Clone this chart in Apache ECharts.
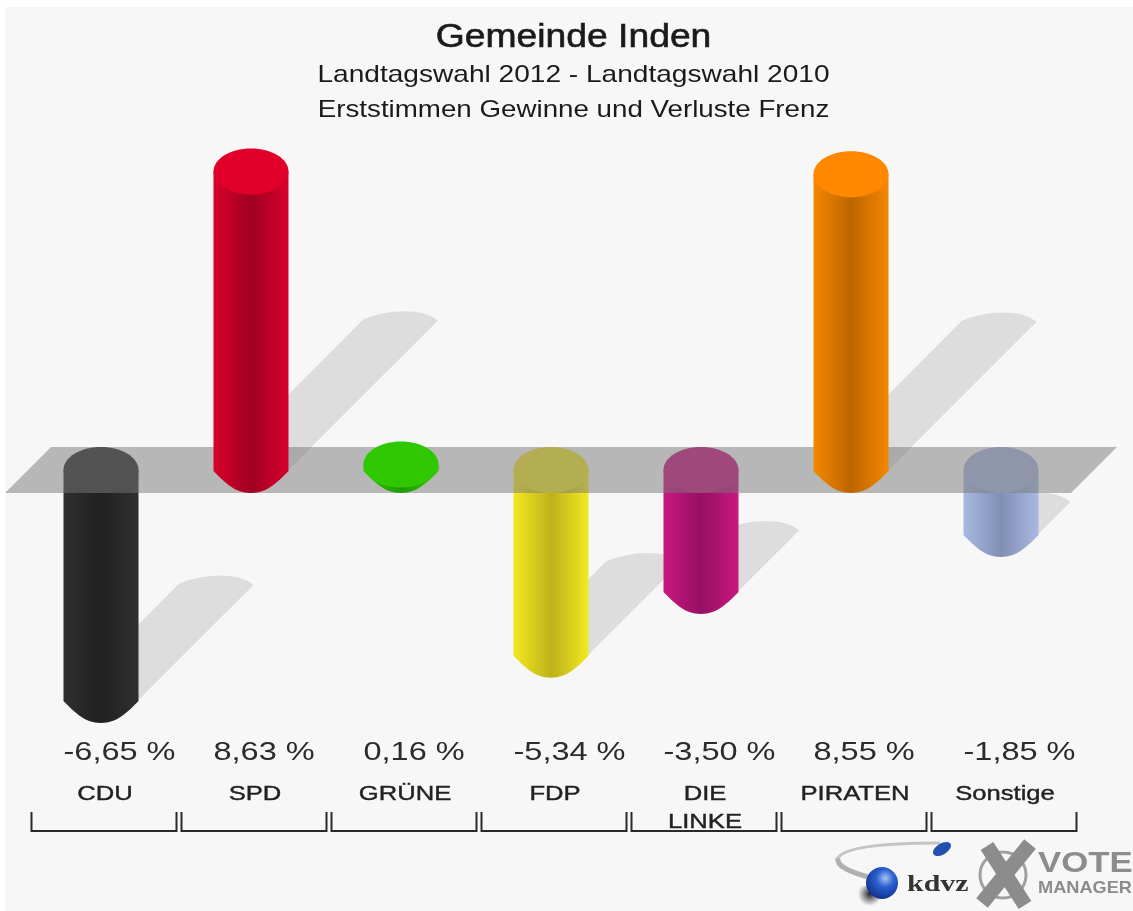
<!DOCTYPE html>
<html>
<head>
<meta charset="utf-8">
<title>Gemeinde Inden</title>
<script src="https://cdn.jsdelivr.net/npm/echarts@6/dist/echarts.min.js"></script>
<style>
    html, body { margin: 0; padding: 0; background: #fff; }
    #chart { width: 1133px; height: 911px; }
</style>
</head>
<body>
<div id="chart"></div>
<script>
var categories = ['CDU', 'SPD', 'GRÜNE', 'FDP', 'DIE LINKE', 'PIRATEN', 'Sonstige'];
var values = [-6.65, 8.63, 0.16, -5.34, -3.50, 8.55, -1.85];
var capColors = ['#2e2e2e', '#e0002a', '#2fc800', '#efe42a', '#c6187e', '#ff8800', '#a6b5dd'];
var edgeColors = ['#303030', '#d8002c', '#2fc800', '#f2ea20', '#c8187f', '#f58700', '#a8b8e0'];
var midColors = ['#202020', '#a00022', '#1f9a00', '#bdb11a', '#961062', '#bc6600', '#8090b4'];

var FONT = '"Liberation Sans", Arial, sans-serif';
var RX = 37.5, RY = 23;

var seriesData = values.map(function (v, i) { return [i, v]; });

function bodyFill(i) {
    return new echarts.graphic.LinearGradient(0, 0, 1, 0, [
        { offset: 0, color: edgeColors[i] },
        { offset: 0.5, color: midColors[i] },
        { offset: 1, color: edgeColors[i] }
    ]);
}

// cylinder from the value point to the zero line, flat ellipse on top and a rounded foot
function renderCylinder(params, api) {
    var i = api.value(0);
    var v = api.value(1);
    var top = api.coord([i, Math.max(v, 0)]);
    var foot = api.coord([i, Math.min(v, 0)]);
    var x = top[0];
    var path = 'M' + (x - RX) + ' ' + top[1] +
        'L' + (x - RX) + ' ' + (foot[1] + 1) +
        'C' + (x - RX + 10) + ' ' + (foot[1] + 11) + ' ' + (x - 17) + ' ' + (foot[1] + RY) + ' ' + x + ' ' + (foot[1] + RY) +
        'C' + (x + 17) + ' ' + (foot[1] + RY) + ' ' + (x + RX - 10) + ' ' + (foot[1] + 11) + ' ' + (x + RX) + ' ' + (foot[1] + 1) +
        'L' + (x + RX) + ' ' + top[1] + 'Z';
    return {
        type: 'group',
        children: [
            { type: 'path', shape: { pathData: path }, style: { fill: bodyFill(i) } },
            { type: 'ellipse', shape: { cx: x, cy: top[1], rx: RX, ry: RY }, style: { fill: capColors[i] } }
        ]
    };
}

function renderShadow(params, api) {
    var i = api.value(0);
    var v = api.value(1);
    var top = api.coord([i, Math.max(v, 0)]);
    var foot = api.coord([i, Math.min(v, 0)]);
    var x = foot[0];
    var k = (foot[1] - top[1]) / 2;
    var tipY = foot[1] - k;
    var path = 'M' + (x - RX) + ' ' + foot[1] +
        'L' + (x + RX) + ' ' + foot[1] +
        'L' + (x + RX + k) + ' ' + tipY +
        'C' + (x + RX + k - 14) + ' ' + (tipY - 13) + ' ' + (x - RX + k + 25) + ' ' + (tipY - 12) + ' ' + (x - RX + k) + ' ' + (tipY - 1) + 'Z';
    return { type: 'path', shape: { pathData: path }, style: { fill: 'rgba(0,0,0,0.1)' } };
}

function renderBand(params, api) {
    var c = api.coord([0, 0]);
    var last = api.coord([categories.length - 1, 0]);
    var skew = RY * 2;
    return {
        type: 'polygon',
        shape: { points: [
            [c[0] - 96, c[1] + RY],
            [c[0] - 96 + skew, c[1] - RY],
            [last[0] + 116, c[1] - RY],
            [last[0] + 116 - skew, c[1] + RY]
        ] },
        style: { fill: 'rgba(120,120,120,0.5)' }
    };
}

function renderLabels(params, api) {
    var i = api.value(0);
    var v = api.value(1);
    var x = api.coord([i, 0])[0];
    var name = categories[i].replace(' ', '\n');
    var b = 72.5;
    return {
        type: 'group',
        children: [
            { type: 'text', x: x - RX, y: 753, scaleX: 1.25,
              style: { text: v.toFixed(2).replace('.', ',') + ' %', fontSize: 26, fontFamily: FONT, fill: '#2b2b2b', align: 'left', verticalAlign: 'middle' } },
            { type: 'text', x: x + 4, y: 780, scaleX: 1.22,
              style: { text: name, fontSize: 21, lineHeight: 28, fontFamily: FONT, fill: '#222', stroke: '#222', lineWidth: 0.4, align: 'center', verticalAlign: 'top' } },
            { type: 'polyline',
              shape: { points: [[x + 3 - b, 812], [x + 3 - b, 831], [x + 3 + b, 831], [x + 3 + b, 812]] },
              style: { stroke: '#2a2a2a', lineWidth: 2, fill: null } }
        ]
    };
}

function customSeries(data, z, fn) {
    return { type: 'custom', data: data, z: z, silent: true, animation: false, clip: false, encode: { x: 0, y: 1 }, renderItem: fn };
}

function headline(text, y, size, sx, heavy) {
    return { type: 'text', x: 573.5, y: y, scaleX: sx, z: 20, silent: true,
        style: { text: text, fontSize: size, fontFamily: FONT, fill: '#1a1a1a', stroke: '#1a1a1a', lineWidth: heavy, align: 'center', verticalAlign: 'middle' } };
}

var chart = echarts.init(document.getElementById('chart'));
chart.setOption({
    animation: false,
    backgroundColor: '#ffffff',
    grid: { left: 26, right: 57, top: 124, bottom: 164.2 },
    xAxis: { type: 'category', data: categories, show: false },
    yAxis: { type: 'value', min: -8, max: 10, show: false },
    graphic: [
        { type: 'rect', z: -1, silent: true, shape: { x: 5, y: 7, width: 1128, height: 904 }, style: { fill: '#f7f7f7' } },
        headline('Gemeinde Inden', 38, 33, 1.13, 0.6),
        headline('Landtagswahl 2012 - Landtagswahl 2010', 75, 24, 1.17, 0),
        headline('Erststimmen Gewinne und Verluste Frenz', 110, 24, 1.155, 0),
        // kdvz logo
        { type: 'bezierCurve', z: 20, silent: true, shape: { x1: 940, y1: 843, cpx1: 890, cpy1: 843, cpx2: 845, cpy2: 846, x2: 838, y2: 858 }, style: { stroke: '#c4c4c4', lineWidth: 3, fill: null } },
        { type: 'bezierCurve', z: 20, silent: true, shape: { x1: 838, y1: 858, cpx1: 836, cpy1: 866, cpx2: 850, cpy2: 872, x2: 868, y2: 877 }, style: { stroke: '#b0b0b0', lineWidth: 5, fill: null } },
        { type: 'ellipse', z: 20, silent: true, shape: { cx: 866, cy: 896, rx: 19, ry: 10 },
          style: { fill: new echarts.graphic.RadialGradient(0.6, 0.4, 0.6, [{ offset: 0, color: '#222' }, { offset: 1, color: 'rgba(60,60,60,0)' }]) } },
        { type: 'circle', z: 21, silent: true, shape: { cx: 882, cy: 883, r: 16 }, style: { fill: new echarts.graphic.RadialGradient(0.6, 0.35, 0.7, [{ offset: 0, color: '#a8c4f0' }, { offset: 0.4, color: '#2a5fd0' }, { offset: 1, color: '#123088' }]) } },
        { type: 'ellipse', z: 21, silent: true, rotation: 0.55, x: 942, y: 849, shape: { cx: 0, cy: 0, rx: 10, ry: 5.5 }, style: { fill: '#2450b0' } },
        { type: 'text', z: 21, silent: true, x: 907, y: 885, scaleX: 1.3, style: { text: 'kdvz', fontSize: 23, fontWeight: 'bold', fontFamily: '"Liberation Serif", serif', fill: '#333', align: 'left', verticalAlign: 'middle' } },
        // vote manager logo
        { type: 'circle', z: 20, silent: true, shape: { cx: 1003, cy: 875, r: 23 }, style: { fill: 'none', stroke: '#a0a0a0', lineWidth: 3 } },
        { type: 'line', z: 21, silent: true, shape: { x1: 987, y1: 846, x2: 1025, y2: 905 }, style: { stroke: '#8c8c8c', lineWidth: 15 } },
        { type: 'line', z: 21, silent: true, shape: { x1: 1030, y1: 844, x2: 982, y2: 903 }, style: { stroke: '#8c8c8c', lineWidth: 15 } },
        { type: 'text', z: 21, silent: true, x: 1038, y: 864, scaleX: 1.2, style: { text: 'VOTE', fontSize: 29, fontWeight: 'bold', fontFamily: FONT, fill: '#8c8c8c', align: 'left', verticalAlign: 'middle' } },
        { type: 'text', z: 21, silent: true, x: 1038, y: 888, scaleX: 1.07, style: { text: 'MANAGER', fontSize: 17, fontWeight: 'bold', fontFamily: FONT, fill: '#8c8c8c', align: 'left', verticalAlign: 'middle' } }
    ],
    series: [
        customSeries(seriesData, 1, renderShadow),
        customSeries(seriesData.filter(function (d) { return d[1] < 0; }), 2, renderCylinder),
        customSeries([[0, 0]], 3, renderBand),
        customSeries(seriesData.filter(function (d) { return d[1] >= 0; }), 4, renderCylinder),
        customSeries(seriesData, 5, renderLabels)
    ]
});
</script>
</body>
</html>
